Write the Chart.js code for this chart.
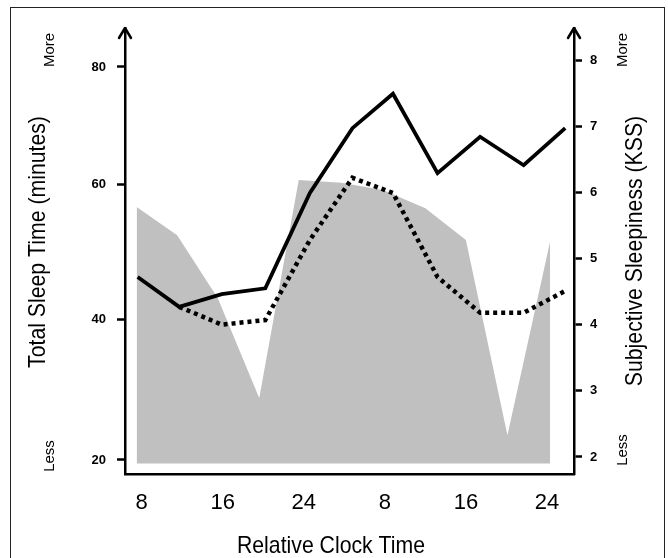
<!DOCTYPE html>
<html><head><meta charset="utf-8">
<script src="https://cdn.jsdelivr.net/npm/chart.js@4/dist/chart.umd.min.js"></script>
<style>
html,body{margin:0;padding:0;background:#fff;}
#wrap{position:relative;width:668px;height:558px;overflow:hidden;background:#fff;}
#frame{position:absolute;left:10px;top:7px;width:655px;height:600px;border:1px solid #222;box-sizing:border-box;}
canvas{position:absolute;left:0;top:0;}
</style></head><body>
<div id="wrap"><div id="frame"></div><canvas id="c" width="668" height="558"></canvas></div>
<script>
// ---- data ----
const xTickValues = [8, 16, 24, 32, 40, 48];
const xTickLabels = ['8', '16', '24', '8', '16', '24'];
const leftTickValues = [20, 40, 60, 80];
const rightTickValues = [2, 3, 4, 5, 6, 7, 8];
const sleepHours = [7.5, 11.5, 15.5, 19.6, 23.5, 27.7, 31.8, 36.0, 40.0, 44.1, 48.3];
const sleepMinutes = [56.6, 52.4, 43.1, 28.8, 60.7, 60.2, 59.1, 56.4, 51.7, 23.5, 51.4];
const sleepBase = 19.5;
const kssHours = [7.6, 11.7, 15.9, 20.2, 24.6, 28.8, 32.8, 37.2, 41.4, 45.7, 49.8];
const kssSolid = [4.72, 4.27, 4.46, 4.55, 5.99, 6.97, 7.49, 6.29, 6.84, 6.41, 6.97];
const kssDotted = [null, 4.27, 4.00, 4.07, 5.28, 6.22, 5.99, 4.72, 4.18, 4.18, 4.51];

// ---- left axis is drawn with uneven tick spacing in the original ----
const leftAnchorFractions = [0.0314, 0.3475, 0.6502, 0.9126];

class PiecewiseScale extends Chart.LinearScale {
  static id = 'piecewise';
  static defaults = Chart.LinearScale.defaults;
  _frac(v) {
    const av = leftTickValues, af = leftAnchorFractions;
    let i = 0;
    if (v <= av[0]) i = 0;
    else if (v >= av[av.length - 1]) i = av.length - 2;
    else { while (v > av[i + 1]) i++; }
    return af[i] + (v - av[i]) * (af[i + 1] - af[i]) / (av[i + 1] - av[i]);
  }
  getPixelForValue(value) {
    if (value === undefined || value === null || isNaN(value)) return NaN;
    return this.getPixelForDecimal(this._frac(value));
  }
  getValueForPixel(pixel) {
    const d = this.getDecimalForPixel(pixel);
    const av = leftTickValues, af = leftAnchorFractions;
    let i = 0;
    if (d <= af[0]) i = 0;
    else if (d >= af[af.length - 1]) i = af.length - 2;
    else { while (d > af[i + 1]) i++; }
    return av[i] + (d - af[i]) * (av[i + 1] - av[i]) / (af[i + 1] - af[i]);
  }
}
Chart.register(PiecewiseScale);

const SANS = "'Liberation Sans',Arial,sans-serif";

const decor = {
  id: 'decor',
  afterDraw(chart) {
    const ctx = chart.ctx, a = chart.chartArea;
    ctx.save();
    ctx.strokeStyle = '#000'; ctx.lineWidth = 2.5; ctx.lineCap = 'round'; ctx.lineJoin = 'round';
    [a.left, a.right].forEach(x => {
      ctx.beginPath(); ctx.moveTo(x - 6, a.top + 10); ctx.lineTo(x, a.top); ctx.lineTo(x + 6, a.top + 10); ctx.stroke();
    });
    ctx.fillStyle = '#000';
    // text drawn condensed (the original uses a narrow sans face)
    function text(str, x, y, font, rot, squeeze) {
      ctx.save(); ctx.translate(x, y); if (rot) ctx.rotate(-Math.PI / 2);
      ctx.scale(squeeze, 1);
      ctx.font = font; ctx.textAlign = 'center'; ctx.textBaseline = 'middle';
      ctx.fillText(str, 0, 0); ctx.restore();
    }
    text('Total Sleep Time (minutes)', 38, 242, '24px ' + SANS, true, 0.885);
    text('Subjective Sleepiness (KSS)', 635, 251, '24px ' + SANS, true, 0.885);
    text('Relative Clock Time', 331, 546, '24px ' + SANS, false, 0.885);
    text('More', 50, 50, '15px ' + SANS, true, 1);
    text('Less', 50, 456, '15px ' + SANS, true, 1);
    text('More', 623, 50, '15px ' + SANS, true, 1);
    text('Less', 623, 450, '15px ' + SANS, true, 1);
    ctx.restore();
  }
};

new Chart(document.getElementById('c'), {
  type: 'line',
  data: {
    datasets: [
      {
        label: 'KSS solid',
        data: kssHours.map((h, i) => ({ x: h, y: kssSolid[i] })),
        yAxisID: 'yR', borderColor: '#000', borderWidth: 3.8, pointRadius: 0,
        fill: false, tension: 0, order: 0
      },
      {
        label: 'KSS dotted',
        data: kssHours.map((h, i) => ({ x: h, y: kssDotted[i] })),
        yAxisID: 'yR', borderColor: '#000', borderWidth: 4.5, borderDash: [4, 4],
        borderCapStyle: 'butt', pointRadius: 0, fill: false, tension: 0, order: 1, spanGaps: false
      },
      {
        label: 'Total sleep time',
        data: sleepHours.map((h, i) => ({ x: h, y: sleepMinutes[i] })),
        yAxisID: 'yL', borderWidth: 0, borderColor: 'rgba(0,0,0,0)',
        backgroundColor: 'rgb(192,192,192)', pointRadius: 0,
        fill: { value: sleepBase }, tension: 0, order: 2
      }
    ]
  },
  options: {
    responsive: false, animation: false, devicePixelRatio: 1,
    layout: { padding: { top: 28, left: 0, right: 0, bottom: 0 } },
    plugins: { legend: { display: false }, tooltip: { enabled: false } },
    scales: {
      x: {
        type: 'linear', position: 'bottom', min: 6.35, max: 50.67,
        afterBuildTicks: s => { s.ticks = xTickValues.map(v => ({ value: v })); },
        afterFit: s => { s.height = 84; },
        grid: { display: false, drawTicks: false },
        border: { display: true, color: '#000', width: 2.5 },
        ticks: {
          color: '#000', padding: 16, font: { family: SANS, size: 22 },
          callback: (v, i) => xTickLabels[i]
        },
        title: { display: false }
      },
      yL: {
        type: 'piecewise', position: 'left', min: 18.0, max: 86.7,
        afterBuildTicks: s => { s.ticks = leftTickValues.map(v => ({ value: v })); },
        afterFit: s => { s.width = 125; },
        grid: { drawOnChartArea: false, drawTicks: true, tickLength: 8, tickWidth: 2.5, tickColor: '#000' },
        border: { display: true, color: '#000', width: 2.5 },
        ticks: { color: '#000', padding: 11, font: { family: SANS, size: 13, weight: 'bold' } }
      },
      yR: {
        type: 'linear', position: 'right', min: 1.743, max: 8.484,
        afterBuildTicks: s => { s.ticks = rightTickValues.map(v => ({ value: v })); },
        afterFit: s => { s.width = 94; },
        grid: { drawOnChartArea: false, drawTicks: true, tickLength: 8, tickWidth: 2.5, tickColor: '#000' },
        border: { display: true, color: '#000', width: 2.5 },
        ticks: { color: '#000', padding: 8, font: { family: SANS, size: 13, weight: 'bold' } }
      }
    }
  },
  plugins: [decor]
});
</script>
</body></html>
